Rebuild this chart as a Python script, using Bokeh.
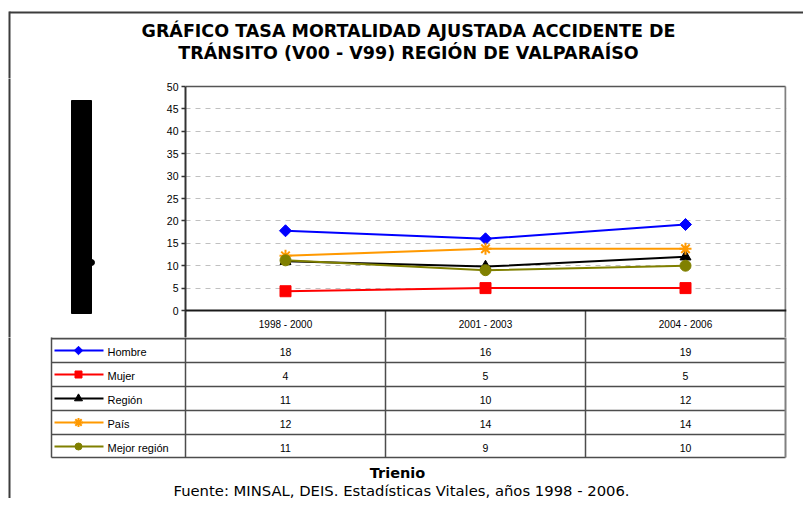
import numpy as np
from bokeh.plotting import figure
from bokeh.layouts import column, row
from bokeh.models import Range1d, FixedTicker, Span
from bokeh.core.properties import value
from bokeh.embed import file_html
from bokeh.resources import INLINE

# ---------------- data ----------------
title_lines = ["GRÁFICO TASA MORTALIDAD AJUSTADA ACCIDENTE DE",
               "TRÁNSITO (V00 - V99) REGIÓN DE VALPARAÍSO"]
periods = ["1998 - 2000", "2001 - 2003", "2004 - 2006"]
series_names = ["Hombre", "Mujer", "Región", "País", "Mejor región"]
hombre = [17.8, 16.0, 19.2]
mujer = [4.3, 5.0, 5.0]
region = [11.0, 9.8, 12.0]
pais = [12.2, 13.8, 13.8]
mejor_region = [11.2, 9.0, 10.0]
y_ticks = [0, 5, 10, 15, 20, 25, 30, 35, 40, 45, 50]
grid_ticks = [5, 10, 15, 20, 25, 30, 35, 40, 45]
x_title = "Trienio"
source_note = "Fuente: MINSAL, DEIS. Estadísticas Vitales, años 1998 - 2006."

series_values = [hombre, mujer, region, pais, mejor_region]

# ---------------- styles ----------------
colors = ["#0000ff", "#ff0000", "#000000", "#ff9900", "#808000"]
markers = ["square", "square", "triangle", "asterisk", "circle"]
angles = [np.pi / 4, 0, 0, 0, 0]
plot_sizes = [8.5, 11, 11, 12, 11]
legend_sizes = [6, 7, 8, 9, 7]

FONT = "Liberation Sans"
WIDE_FONT = "DejaVu Sans"
BORDER = "#3c3c3c"
TABLE_LINE = "#4d4d4d"

# layout geometry (reference pixel coords)
TOTAL_W, TOTAL_H = 803, 498
PLOT_L, PLOT_R = 185, 785
FRAME_R = 786
PLOT_T, ZERO_Y = 86, 310
HEAD_B, TABLE_B = 337, 457
LEG_L = 51
COL_W = (PLOT_R - PLOT_L) / len(periods)
LEFT_W = 100          # width of the left strip figure
TITLE_H = 78          # title strip height
MID_H = HEAD_B - TITLE_H
TAB_H = TOTAL_H - HEAD_B
NP = len(periods)


def tx(X):
    """reference pixel x -> table x coordinate (category units)"""
    return (X - PLOT_L) / COL_W


def blank(width, height, xr, yr):
    f = figure(width=width, height=height, x_range=xr, y_range=yr,
               output_backend="svg", toolbar_location=None,
               x_axis_location=None, y_axis_location=None,
               min_border=0, min_border_left=0, min_border_right=0,
               min_border_top=0, min_border_bottom=0)
    f.grid.visible = False
    f.outline_line_color = None
    f.background_fill_color = "white"
    f.border_fill_color = "white"
    return f


# ---------------- title strip ----------------
pt = blank(TOTAL_W, TITLE_H, Range1d(0, TOTAL_W), Range1d(TITLE_H, 0))
pt.segment(x0=[9, 9], y0=[12, 11], x1=[TOTAL_W + 5, 9], y1=[12, TITLE_H + 6],
           line_color=BORDER, line_width=2)
pt.text(x=[408, 408], y=[30, 52], text=title_lines,
        text_font=value(WIDE_FONT), text_font_style="bold",
        text_font_size="17.5px", text_align="center",
        text_baseline="middle", text_color="black")

# ---------------- left strip ----------------
pl = blank(LEFT_W, MID_H, Range1d(0, LEFT_W), Range1d(HEAD_B, TITLE_H))
pl.segment(x0=[9], y0=[TITLE_H - 6], x1=[9], y1=[HEAD_B + 6], line_color=BORDER, line_width=2)
pl.quad(left=[71], right=[91], top=[100], bottom=[313], color="black")
pl.scatter(x=[91], y=[262], size=6, marker="circle", color="black")

# ---------------- plot ----------------
px_per_unit = (ZERO_Y - PLOT_T) / 50.0
y_lo = -(HEAD_B - ZERO_Y) / px_per_unit
y_hi = 50 + (PLOT_T - TITLE_H) / px_per_unit
pp = figure(width=TOTAL_W - LEFT_W, height=MID_H,
            x_range=Range1d(0, NP + (FRAME_R - PLOT_R) / COL_W),
            y_range=Range1d(y_lo, y_hi),
            output_backend="svg", toolbar_location=None,
            x_axis_location=None,
            min_border_left=PLOT_L - LEFT_W, min_border_right=TOTAL_W - FRAME_R,
            min_border_top=0, min_border_bottom=0)
pp.background_fill_color = "white"
pp.border_fill_color = "white"
pp.outline_line_color = None
pp.xgrid.visible = False
pp.ygrid.ticker = FixedTicker(ticks=grid_ticks)
pp.ygrid.grid_line_color = "#c0c0c0"
pp.ygrid.grid_line_dash = "5 5"
pp.ygrid.grid_line_width = 1
ax = pp.yaxis[0]
ax.ticker = FixedTicker(ticks=y_ticks)
ax.bounds = (y_lo, 50)
ax.minor_tick_line_color = None
ax.major_tick_in = 0
ax.major_tick_out = 4
ax.major_tick_line_color = "#333333"
ax.major_tick_line_width = 1.5
ax.axis_line_color = "#333333"
ax.axis_line_width = 2
ax.major_label_text_font = FONT
ax.major_label_text_font_size = "10.5px"
ax.major_label_text_color = "black"
ax.major_label_standoff = 3

# plot-area borders
pp.segment(x0=[0], y0=[50], x1=[NP], y1=[50], line_color="#555555", line_width=1.5)
pp.segment(x0=[NP], y0=[y_lo - 1], x1=[NP], y1=[50], line_color="#808080", line_width=2)
pp.add_layout(Span(location=0, dimension="width", line_color="#1a1a1a", line_width=2))

xc = [i + 0.5 for i in range(NP)]
bounds = [float(i) for i in range(1, NP)]
pp.segment(x0=bounds, y0=[0] * len(bounds), x1=bounds, y1=[y_lo - 1] * len(bounds),
           line_color=TABLE_LINE, line_width=1.5)
pp.text(x=xc, y=[y_lo / 2] * NP, text=periods,
        text_font=value(FONT), text_font_size="10px", text_align="center",
        text_baseline="middle", text_color="black")

for vals, c, m, a, s in zip(series_values, colors, markers, angles, plot_sizes):
    pp.line(xc, vals, line_color=c, line_width=2)
    pp.scatter(xc, vals, marker=m, angle=a, size=s, fill_color=c,
               line_color=c, line_width=2 if m == "asterisk" else 1)

# ---------------- table strip ----------------
ptab = blank(TOTAL_W, TAB_H, Range1d(tx(0), tx(TOTAL_W)), Range1d(TOTAL_H, HEAD_B))
row_lines = [HEAD_B + 1, 362, 386, 410, 434, TABLE_B]
ptab.segment(x0=[tx(LEG_L)] * len(row_lines), y0=row_lines,
             x1=[NP] * len(row_lines), y1=row_lines,
             line_color=TABLE_LINE, line_width=[2, 1.5, 1.5, 1.5, 1.5, 1.5])
vlines = [tx(LEG_L)] + [float(i) for i in range(NP)]
ptab.segment(x0=vlines, y0=[HEAD_B - 3] * len(vlines), x1=vlines, y1=[TABLE_B] * len(vlines),
             line_color=TABLE_LINE, line_width=1.5)
ptab.segment(x0=[NP], y0=[HEAD_B - 3], x1=[NP], y1=[TABLE_B],
             line_color="#808080", line_width=2)
ptab.segment(x0=[tx(9)], y0=[HEAD_B - 6], x1=[tx(9)], y1=[TOTAL_H + 6],
             line_color=BORDER, line_width=2)

row_h = 24
for k, (name, vals, c, m, a, s) in enumerate(zip(series_names, series_values, colors,
                                                   markers, angles, legend_sizes)):
    yc = HEAD_B + 1 + row_h * k + row_h / 2
    ptab.text(x=xc, y=[yc + 1] * len(vals), text=[str(int(round(v))) for v in vals],
              text_font=value(FONT), text_font_size="10.5px", text_align="center",
              text_baseline="middle", text_color="black")
    ptab.segment(x0=[tx(54)], y0=[yc], x1=[tx(103)], y1=[yc], line_color=c, line_width=2)
    ptab.scatter(x=[tx(78)], y=[yc], marker=m, angle=a, size=s, fill_color=c,
                 line_color=c, line_width=2 if m == "asterisk" else 1)
    ptab.text(x=[tx(107)], y=[yc + 1], text=[name], text_font=value(FONT),
              text_font_size="11px", text_align="left", text_baseline="middle",
              text_color="black")

ptab.text(x=[tx(397)], y=[472], text=[x_title], text_font=value(WIDE_FONT),
          text_font_style="bold", text_font_size="14.5px", text_align="center",
          text_baseline="middle", text_color="black")
ptab.text(x=[tx(401)], y=[490], text=[source_note], text_font=value(WIDE_FONT),
          text_font_size="14.8px", text_align="center",
          text_baseline="middle", text_color="black")

layout = column(pt, row(pl, pp), ptab)
open("out.html", "w").write(file_html(layout, INLINE))
